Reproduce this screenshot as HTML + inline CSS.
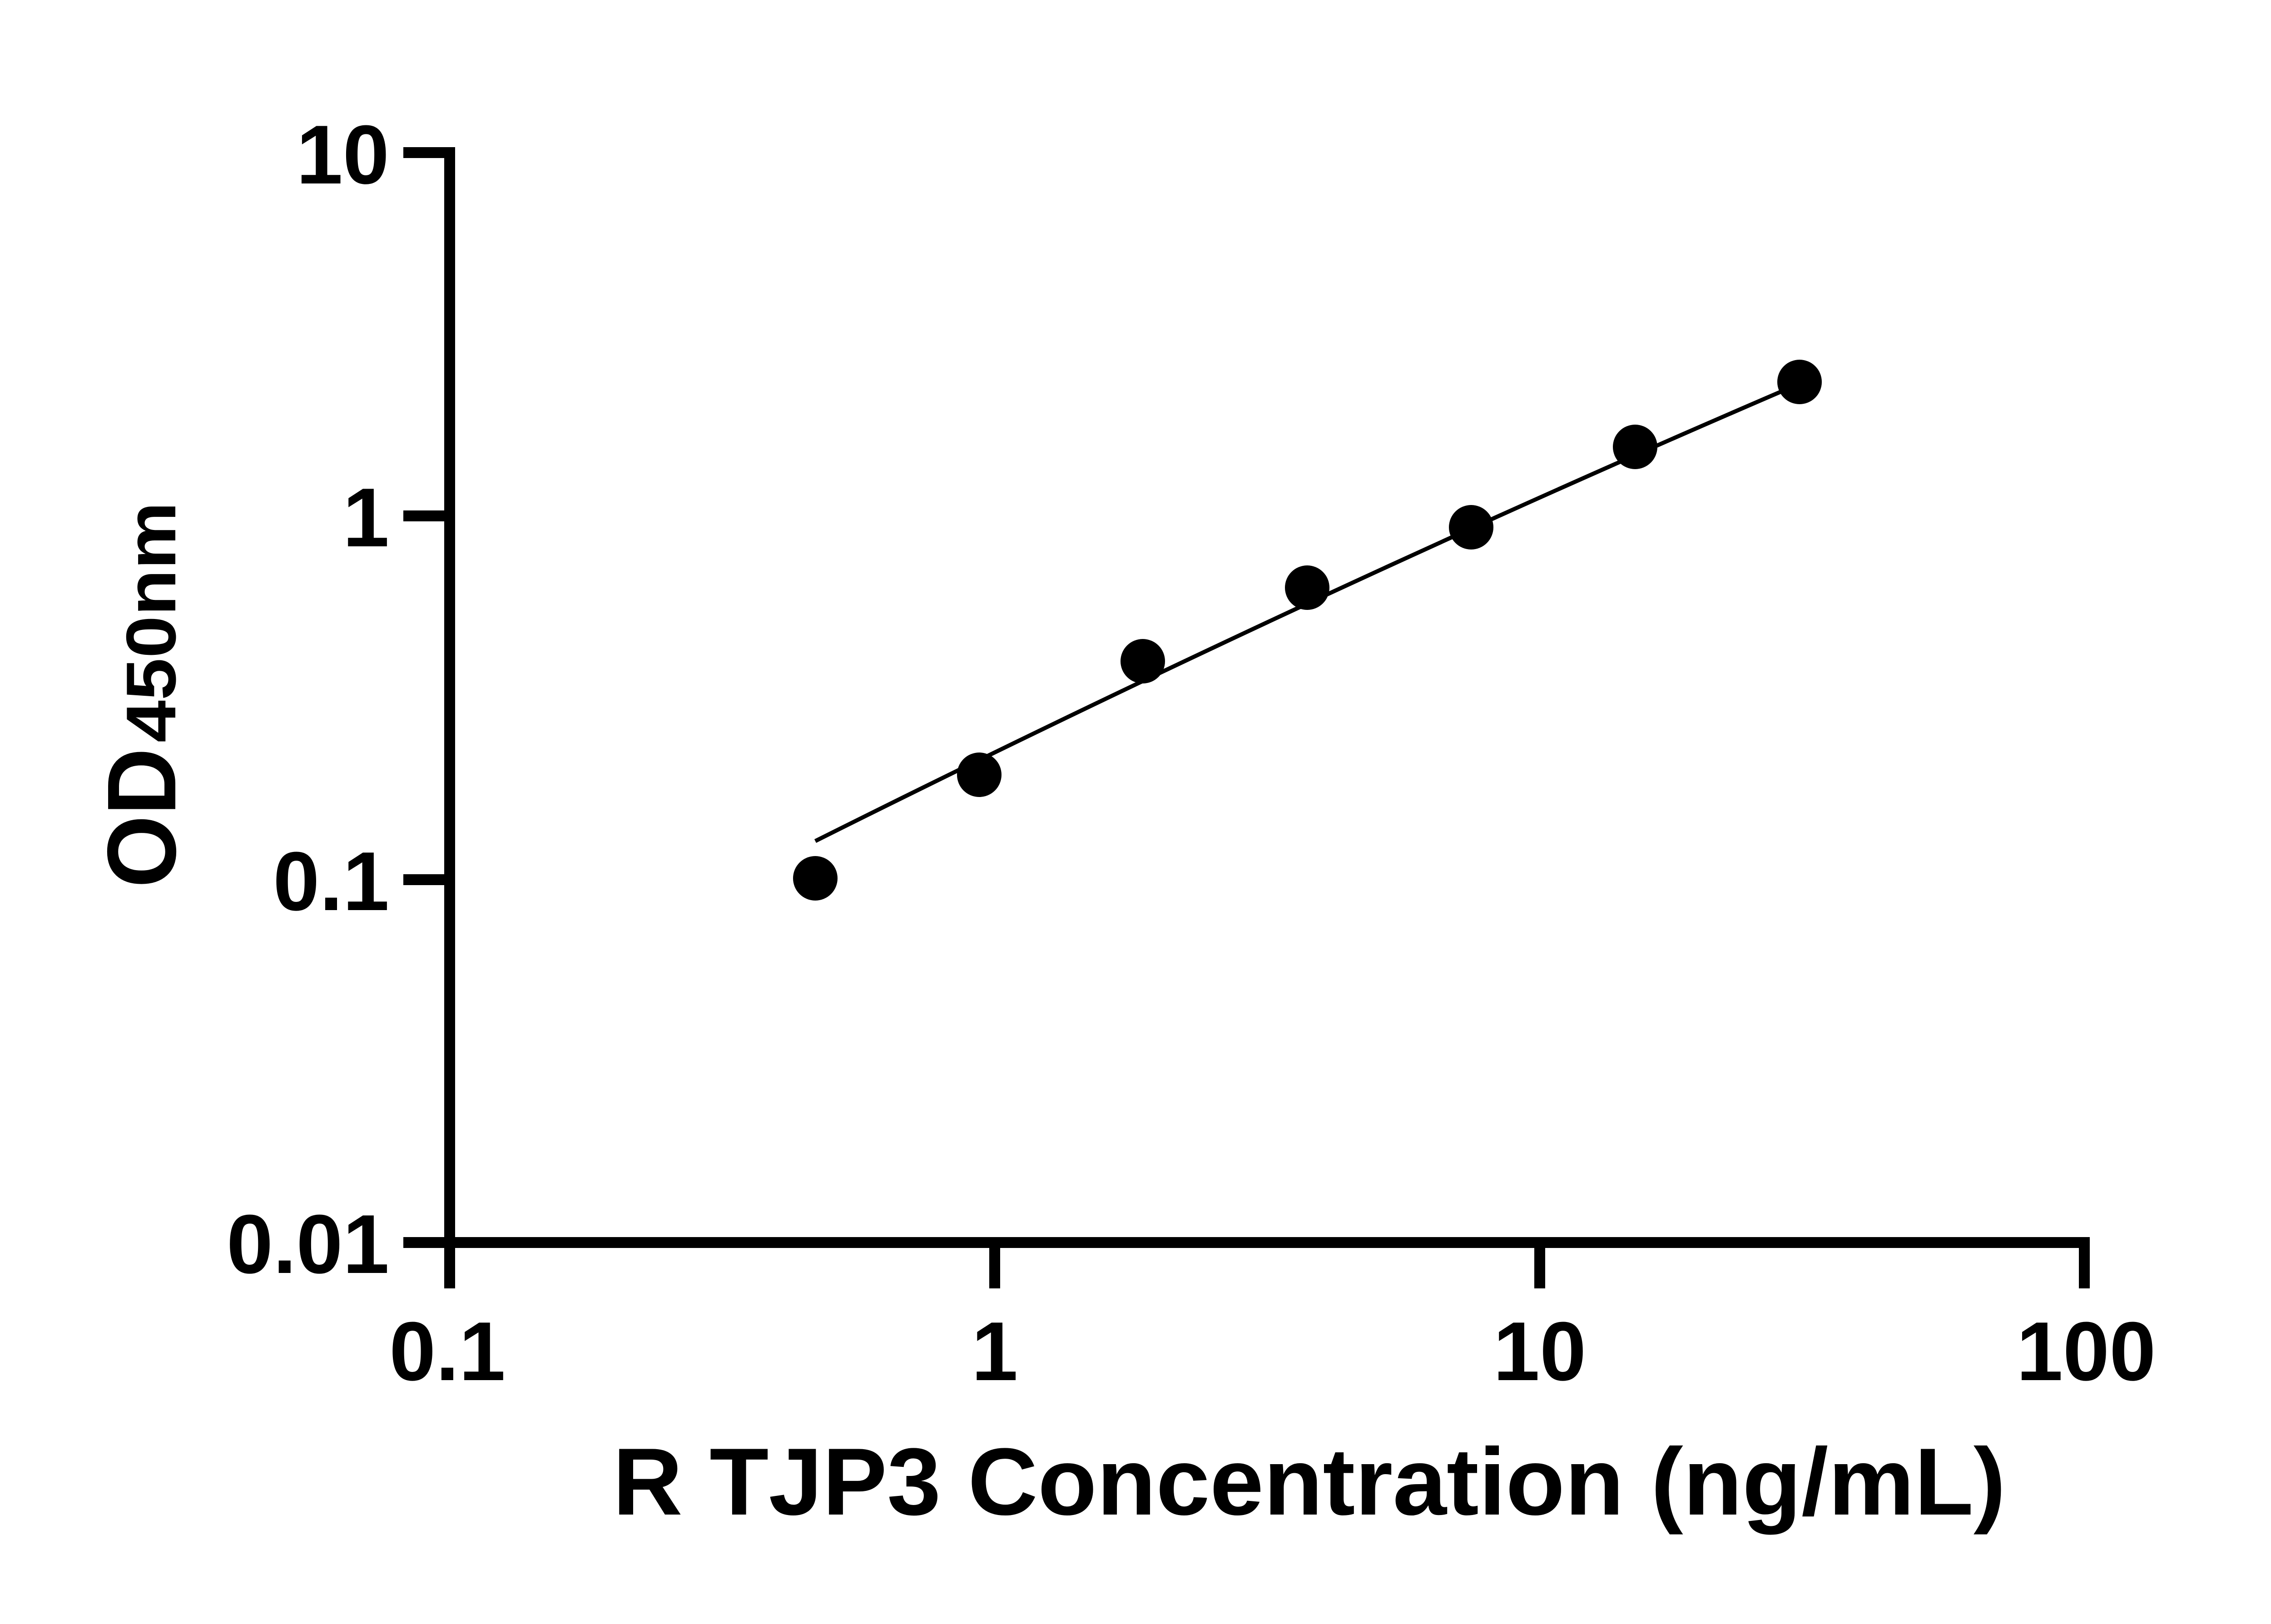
<!DOCTYPE html>
<html><head><style>html,body{margin:0;padding:0;background:#fff}svg{display:block}</style></head>
<body>
<svg width="5142" height="3576" viewBox="0 0 5142 3576" xmlns="http://www.w3.org/2000/svg">
<rect width="5142" height="3576" fill="#fff"/>
<g stroke="#000" stroke-width="24" fill="none" stroke-linecap="butt">
<path d="M990 324 V2736 H4589 V2837"/>
<path d="M888 336 H990 M888 1136 H990 M888 1937 H990 M888 2736 H990"/>
<path d="M990 2736 V2837 M2190 2736 V2837 M3390 2736 V2837"/>
</g>
<path d="M1795 1852 Q2866 1316 3936 856" fill="none" stroke="#000" stroke-width="9"/>
<g fill="#000">
<circle cx="1795" cy="1934" r="49"/>
<circle cx="2156" cy="1706" r="49"/>
<circle cx="2516" cy="1456" r="49"/>
<circle cx="2878" cy="1294" r="49"/>
<circle cx="3239" cy="1161" r="49"/>
<circle cx="3600" cy="984" r="49"/>
<circle cx="3962" cy="841" r="49"/>
</g>
<g font-family="Liberation Sans, Arial, sans-serif" font-weight="bold" font-size="184" fill="#000">
<text x="857" y="404" text-anchor="end">10</text>
<text x="857" y="1203" text-anchor="end">1</text>
<text x="857" y="2004" text-anchor="end">0.1</text>
<text x="857" y="2803" text-anchor="end">0.01</text>
<text x="985" y="3039" text-anchor="middle">0.1</text>
<text x="2190" y="3039" text-anchor="middle">1</text>
<text x="3390" y="3039" text-anchor="middle">10</text>
<text x="4593" y="3039" text-anchor="middle">100</text>
</g>
<text x="1349" y="3335" font-family="Liberation Sans, Arial, sans-serif" font-weight="bold" font-size="210" textLength="3067" lengthAdjust="spacingAndGlyphs">R TJP3 Concentration (ng/mL)</text>
<text transform="translate(386 1955) rotate(-90)" font-family="Liberation Sans, Arial, sans-serif" font-weight="bold" fill="#000"><tspan font-size="215" textLength="308" lengthAdjust="spacingAndGlyphs">OD</tspan><tspan x="320" font-size="155" textLength="530" lengthAdjust="spacingAndGlyphs">450nm</tspan></text>
</svg>
</body></html>
